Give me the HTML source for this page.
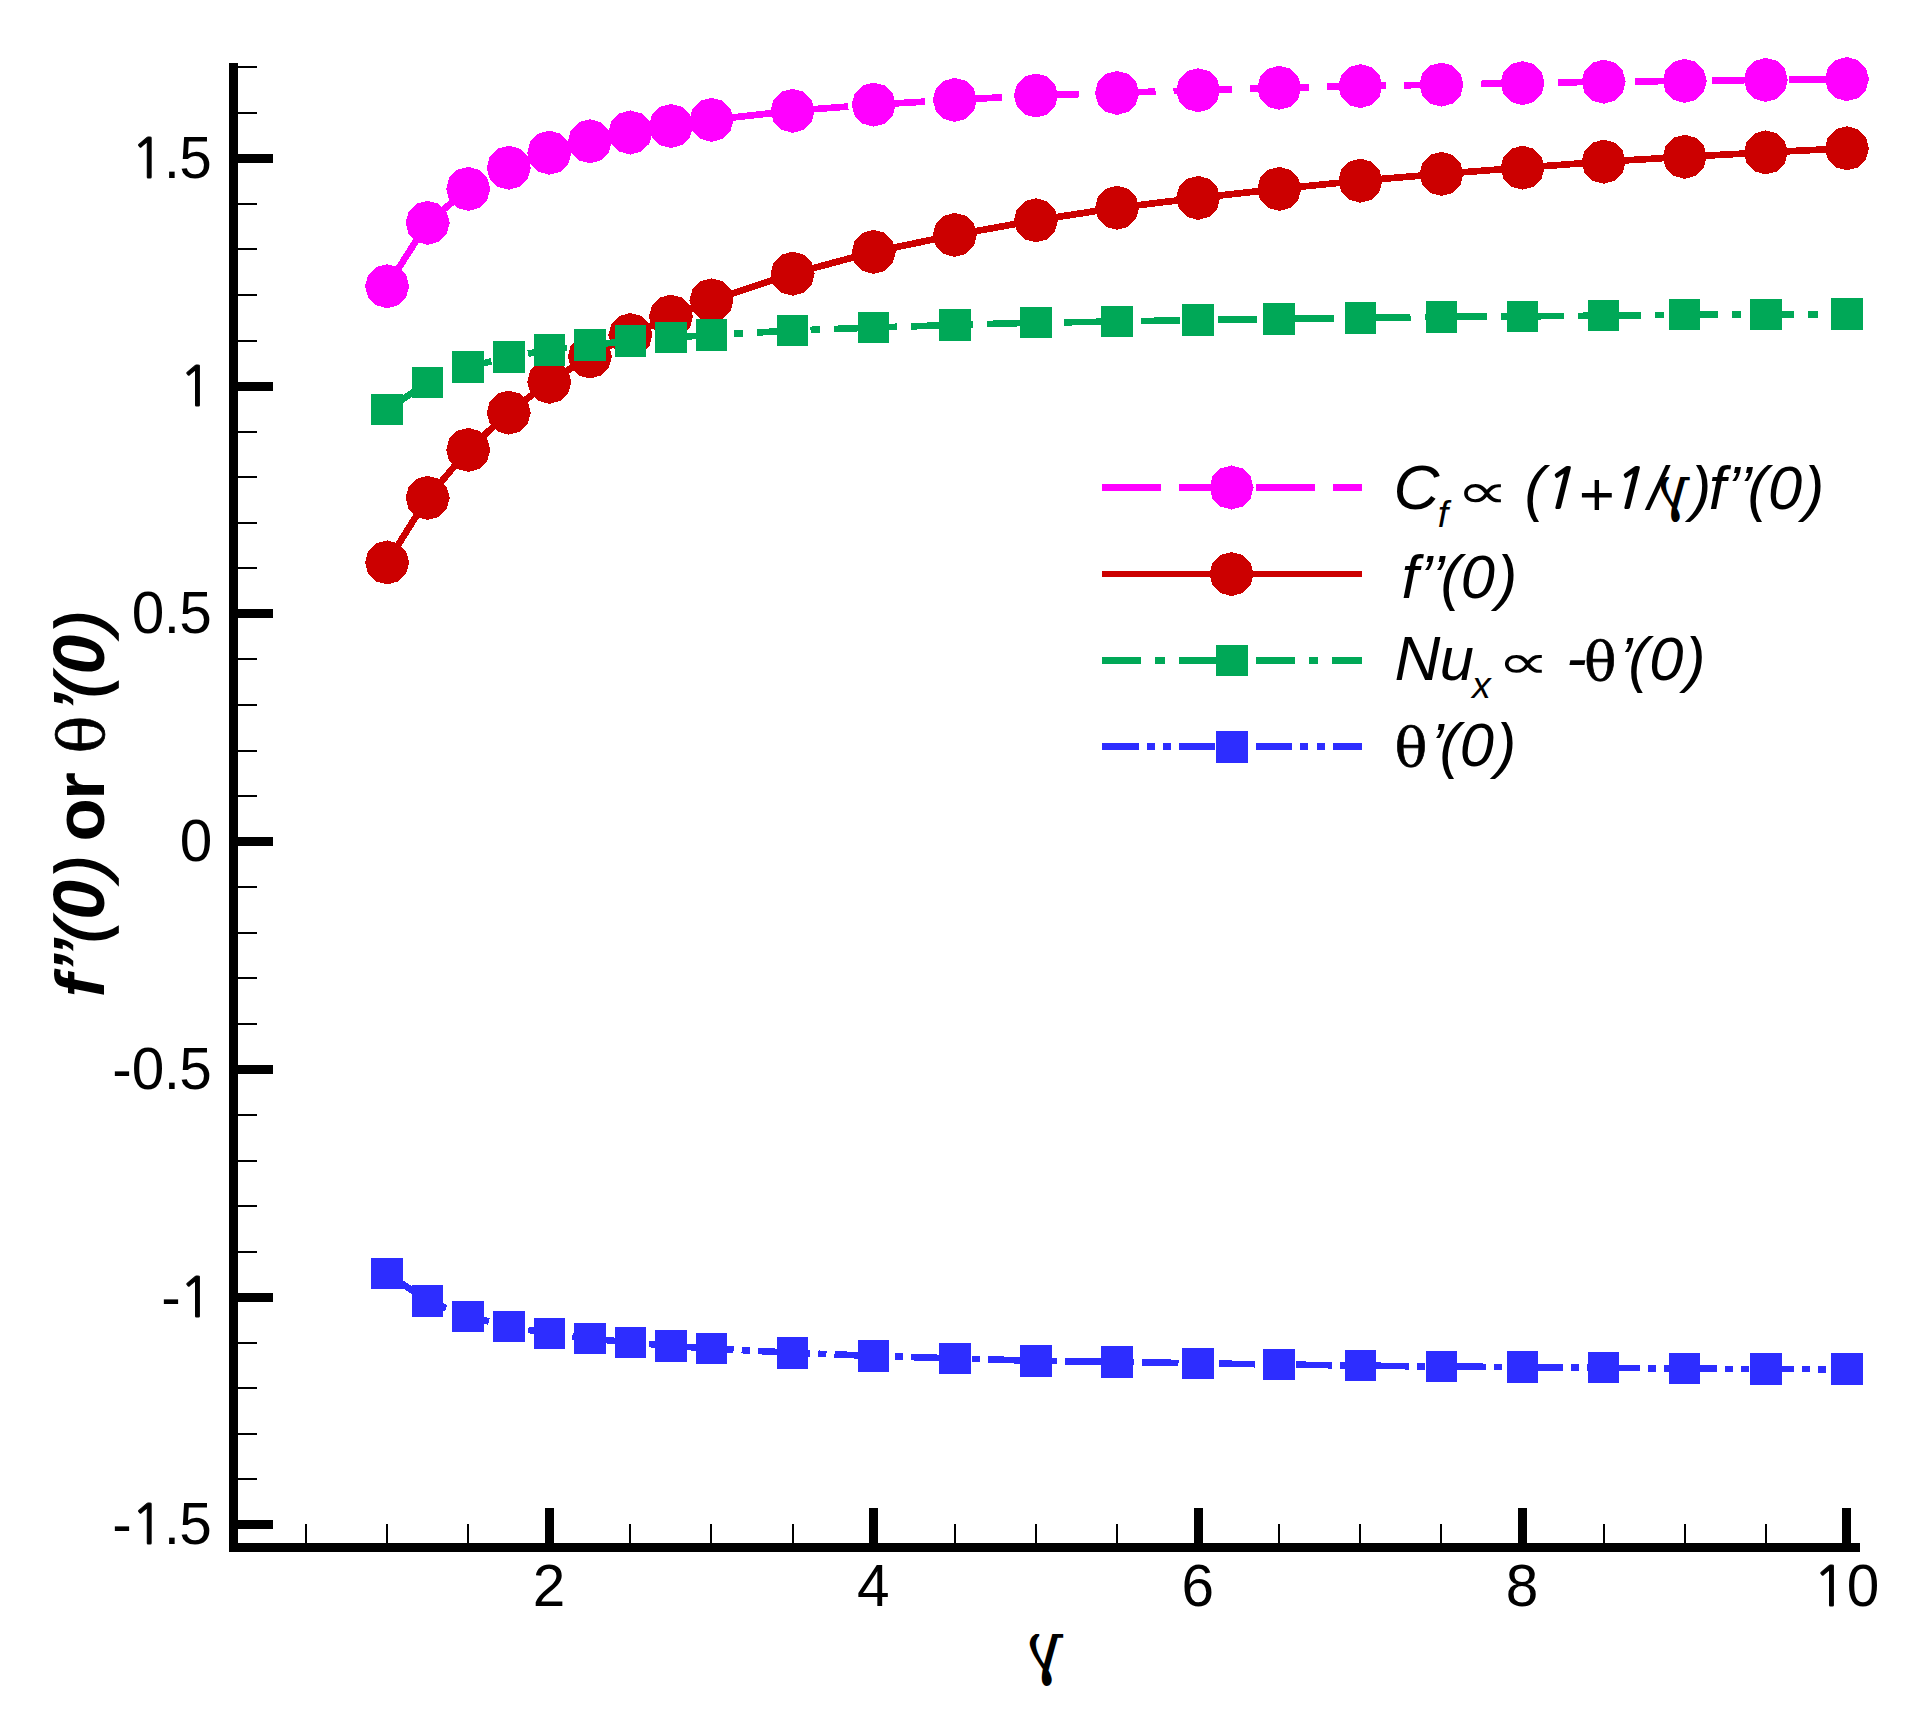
<!DOCTYPE html>
<html lang="en">
<head>
<meta charset="utf-8">
<title>f’’(0) or θ’(0) versus γ</title>
<style>
html,body{margin:0;padding:0;background:#fff}
body{width:1924px;height:1715px;overflow:hidden}
svg{display:block}
.ax{fill:#000}
text{fill:#000}
.tl{font-family:"Liberation Sans",sans-serif;font-size:58.5px}
.lg{font-family:"Liberation Sans",sans-serif;font-style:italic;font-size:61.5px}
.one{font-family:"NanumGothic","Liberation Sans",sans-serif;stroke:#000;stroke-width:1.1px}
.onel{font-family:"NanumGothic","Liberation Sans",sans-serif;stroke:#000;stroke-width:1.8px}
.th{font-family:"DejaVu Serif","Liberation Serif",serif;font-style:normal;font-weight:normal;stroke:#000;stroke-width:.7px}
.pl{font-weight:normal;stroke:#000;stroke-width:1.7px}
.gm{font-family:"DejaVu Serif","Liberation Serif",serif;font-style:normal;font-weight:normal}
.pr{font-family:"DejaVu Sans",sans-serif;font-style:normal;font-weight:normal}
.yt{font-family:"Liberation Sans",sans-serif;font-weight:bold;font-style:italic}
.ln{fill:none;stroke-width:6.7;stroke-linecap:butt;stroke-linejoin:miter}
</style>
</head>
<body>
<svg width="1924" height="1715" viewBox="0 0 1924 1715">
<rect width="1924" height="1715" fill="#fff"/>
<g class="ax" shape-rendering="crispEdges">
<rect x="229" y="63" width="9" height="1489"/>
<rect x="229" y="1543" width="1631" height="9"/>
<rect x="238" y="1520" width="35" height="9"/>
<rect x="238" y="1293" width="35" height="9"/>
<rect x="238" y="1065" width="35" height="9"/>
<rect x="238" y="837" width="35" height="9"/>
<rect x="238" y="609" width="35" height="9"/>
<rect x="238" y="382" width="35" height="9"/>
<rect x="238" y="154" width="35" height="9"/>
<rect x="238" y="1478" width="19" height="2"/>
<rect x="238" y="1433" width="19" height="2"/>
<rect x="238" y="1387" width="19" height="2"/>
<rect x="238" y="1342" width="19" height="2"/>
<rect x="238" y="1251" width="19" height="2"/>
<rect x="238" y="1205" width="19" height="2"/>
<rect x="238" y="1160" width="19" height="2"/>
<rect x="238" y="1114" width="19" height="2"/>
<rect x="238" y="1023" width="19" height="2"/>
<rect x="238" y="977" width="19" height="2"/>
<rect x="238" y="932" width="19" height="2"/>
<rect x="238" y="886" width="19" height="2"/>
<rect x="238" y="795" width="19" height="2"/>
<rect x="238" y="750" width="19" height="2"/>
<rect x="238" y="704" width="19" height="2"/>
<rect x="238" y="658" width="19" height="2"/>
<rect x="238" y="567" width="19" height="2"/>
<rect x="238" y="522" width="19" height="2"/>
<rect x="238" y="476" width="19" height="2"/>
<rect x="238" y="431" width="19" height="2"/>
<rect x="238" y="340" width="19" height="2"/>
<rect x="238" y="294" width="19" height="2"/>
<rect x="238" y="248" width="19" height="2"/>
<rect x="238" y="203" width="19" height="2"/>
<rect x="238" y="112" width="19" height="2"/>
<rect x="238" y="66" width="19" height="2"/>
<rect x="545" y="1508" width="9" height="35"/>
<rect x="869" y="1508" width="9" height="35"/>
<rect x="1194" y="1508" width="9" height="35"/>
<rect x="1518" y="1508" width="9" height="35"/>
<rect x="1842" y="1508" width="9" height="35"/>
<rect x="305" y="1524" width="2" height="19"/>
<rect x="386" y="1524" width="2" height="19"/>
<rect x="467" y="1524" width="2" height="19"/>
<rect x="629" y="1524" width="2" height="19"/>
<rect x="710" y="1524" width="2" height="19"/>
<rect x="792" y="1524" width="2" height="19"/>
<rect x="954" y="1524" width="2" height="19"/>
<rect x="1035" y="1524" width="2" height="19"/>
<rect x="1116" y="1524" width="2" height="19"/>
<rect x="1278" y="1524" width="2" height="19"/>
<rect x="1359" y="1524" width="2" height="19"/>
<rect x="1440" y="1524" width="2" height="19"/>
<rect x="1603" y="1524" width="2" height="19"/>
<rect x="1684" y="1524" width="2" height="19"/>
<rect x="1765" y="1524" width="2" height="19"/>
</g>
<g>
<text class="tl" x="130.85 163.77 179.29" y="177.9"><tspan class="one" font-size="55.2">1</tspan>.5</text>
<text class="tl" x="178.9" y="405.65"><tspan class="one" font-size="55.2">1</tspan></text>
<text class="tl" x="131.73 163.77 179.29" y="633.4">0.5</text>
<text class="tl" x="179.73" y="861.15">0</text>
<text class="tl" x="112.21 131.73 163.77 179.29" y="1088.9">-0.5</text>
<text class="tl" x="161.21 178.9" y="1316.65">-<tspan class="one" font-size="55.2">1</tspan></text>
<text class="tl" x="112.21 130.85 163.77 179.29" y="1544.4">-<tspan class="one" font-size="55.2">1</tspan>.5</text>
<text class="tl" x="548.9" y="1606.3" text-anchor="middle">2</text>
<text class="tl" x="873.3" y="1606.3" text-anchor="middle">4</text>
<text class="tl" x="1197.7" y="1606.3" text-anchor="middle">6</text>
<text class="tl" x="1522.1" y="1606.3" text-anchor="middle">8</text>
<text class="tl" x="1812.95 1846.78" y="1606.3"><tspan class="one" font-size="55.2">1</tspan>0</text>
</g>
<g shape-rendering="crispEdges">
<polyline class="ln" stroke="#ff00ff" stroke-dasharray="58.9 18" points="387.1,286.2 427.65,222.8 468.2,188.9 508.75,167.7 549.3,152.7 589.85,141.3 630.4,132.5 670.95,126 711.5,119.8 792.6,110.8 873.7,104.6 954.8,99.9 1035.9,95.5 1117,92.9 1198.1,90.2 1279.2,87.8 1360.3,86.1 1441.4,84.6 1522.5,83.1 1603.6,81.7 1684.7,80.9 1765.8,79.9 1846.9,79.1"/>
<g fill="#ff00ff"><polygon points="409.15,286.2 406.2,275.18 398.12,267.1 387.1,264.15 376.08,267.1 368,275.18 365.05,286.2 368,297.22 376.07,305.3 387.1,308.25 398.12,305.3 406.2,297.23"/><polygon points="449.7,222.8 446.75,211.78 438.67,203.7 427.65,200.75 416.62,203.7 408.55,211.78 405.6,222.8 408.55,233.83 416.62,241.9 427.65,244.85 438.67,241.9 446.75,233.83"/><polygon points="490.25,188.9 487.3,177.88 479.22,169.8 468.2,166.85 457.18,169.8 449.1,177.88 446.15,188.9 449.1,199.93 457.17,208 468.2,210.95 479.22,208 487.3,199.93"/><polygon points="530.8,167.7 527.85,156.67 519.77,148.6 508.75,145.65 497.73,148.6 489.65,156.67 486.7,167.7 489.65,178.72 497.72,186.8 508.75,189.75 519.77,186.8 527.85,178.72"/><polygon points="571.35,152.7 568.4,141.67 560.32,133.6 549.3,130.65 538.27,133.6 530.2,141.67 527.25,152.7 530.2,163.72 538.27,171.8 549.3,174.75 560.32,171.8 568.4,163.72"/><polygon points="611.9,141.3 608.95,130.28 600.88,122.2 589.85,119.25 578.83,122.2 570.75,130.28 567.8,141.3 570.75,152.33 578.83,160.4 589.85,163.35 600.88,160.4 608.95,152.33"/><polygon points="652.45,132.5 649.5,121.47 641.42,113.4 630.4,110.45 619.38,113.4 611.3,121.47 608.35,132.5 611.3,143.53 619.38,151.6 630.4,154.55 641.42,151.6 649.5,143.53"/><polygon points="693,126 690.05,114.97 681.97,106.9 670.95,103.95 659.92,106.9 651.85,114.97 648.9,126 651.85,137.03 659.92,145.1 670.95,148.05 681.97,145.1 690.05,137.03"/><polygon points="733.55,119.8 730.6,108.78 722.52,100.7 711.5,97.75 700.48,100.7 692.4,108.78 689.45,119.8 692.4,130.82 700.48,138.9 711.5,141.85 722.52,138.9 730.6,130.83"/><polygon points="814.65,110.8 811.7,99.78 803.62,91.7 792.6,88.75 781.57,91.7 773.5,99.78 770.55,110.8 773.5,121.83 781.57,129.9 792.6,132.85 803.62,129.9 811.7,121.83"/><polygon points="895.75,104.6 892.8,93.57 884.72,85.5 873.7,82.55 862.67,85.5 854.6,93.57 851.65,104.6 854.6,115.62 862.67,123.7 873.7,126.65 884.72,123.7 892.8,115.62"/><polygon points="976.85,99.9 973.9,88.88 965.82,80.8 954.8,77.85 943.77,80.8 935.7,88.88 932.75,99.9 935.7,110.93 943.77,119 954.8,121.95 965.82,119 973.9,110.93"/><polygon points="1057.95,95.5 1055,84.47 1046.93,76.4 1035.9,73.45 1024.88,76.4 1016.8,84.47 1013.85,95.5 1016.8,106.53 1024.88,114.6 1035.9,117.55 1046.93,114.6 1055,106.53"/><polygon points="1139.05,92.9 1136.1,81.88 1128.03,73.8 1117,70.85 1105.97,73.8 1097.9,81.88 1094.95,92.9 1097.9,103.93 1105.97,112 1117,114.95 1128.03,112 1136.1,103.93"/><polygon points="1220.15,90.2 1217.2,79.18 1209.12,71.1 1198.1,68.15 1187.07,71.1 1179,79.18 1176.05,90.2 1179,101.23 1187.07,109.3 1198.1,112.25 1209.12,109.3 1217.2,101.23"/><polygon points="1301.25,87.8 1298.3,76.78 1290.23,68.7 1279.2,65.75 1268.17,68.7 1260.1,76.78 1257.15,87.8 1260.1,98.83 1268.17,106.9 1279.2,109.85 1290.23,106.9 1298.3,98.83"/><polygon points="1382.35,86.1 1379.4,75.07 1371.33,67 1360.3,64.05 1349.27,67 1341.2,75.07 1338.25,86.1 1341.2,97.12 1349.27,105.2 1360.3,108.15 1371.33,105.2 1379.4,97.12"/><polygon points="1463.45,84.6 1460.5,73.57 1452.43,65.5 1441.4,62.55 1430.38,65.5 1422.3,73.57 1419.35,84.6 1422.3,95.62 1430.38,103.7 1441.4,106.65 1452.43,103.7 1460.5,95.62"/><polygon points="1544.55,83.1 1541.6,72.07 1533.53,64 1522.5,61.05 1511.47,64 1503.4,72.07 1500.45,83.1 1503.4,94.12 1511.47,102.2 1522.5,105.15 1533.53,102.2 1541.6,94.12"/><polygon points="1625.65,81.7 1622.7,70.68 1614.62,62.6 1603.6,59.65 1592.57,62.6 1584.5,70.68 1581.55,81.7 1584.5,92.73 1592.57,100.8 1603.6,103.75 1614.62,100.8 1622.7,92.73"/><polygon points="1706.75,80.9 1703.8,69.88 1695.73,61.8 1684.7,58.85 1673.67,61.8 1665.6,69.88 1662.65,80.9 1665.6,91.93 1673.67,100 1684.7,102.95 1695.73,100 1703.8,91.93"/><polygon points="1787.85,79.9 1784.9,68.88 1776.83,60.8 1765.8,57.85 1754.77,60.8 1746.7,68.88 1743.75,79.9 1746.7,90.93 1754.77,99 1765.8,101.95 1776.83,99 1784.9,90.93"/><polygon points="1868.95,79.1 1866,68.07 1857.93,60 1846.9,57.05 1835.88,60 1827.8,68.07 1824.85,79.1 1827.8,90.12 1835.88,98.2 1846.9,101.15 1857.93,98.2 1866,90.12"/></g>
<polyline class="ln" stroke="#cc0000" points="387.1,562.4 427.65,497.9 468.2,449.9 508.75,412.6 549.3,381.8 589.85,356.5 630.4,335 670.95,316.6 711.5,300.3 792.6,273.7 873.7,251.9 954.8,234.9 1035.9,220.3 1117,207.8 1198.1,197.9 1279.2,188.9 1360.3,180.7 1441.4,173.9 1522.5,167.7 1603.6,161.7 1684.7,156.8 1765.8,152.4 1846.9,148.3"/>
<g fill="#cc0000"><polygon points="409.15,562.4 406.2,551.38 398.12,543.3 387.1,540.35 376.08,543.3 368,551.38 365.05,562.4 368,573.42 376.07,581.5 387.1,584.45 398.12,581.5 406.2,573.42"/><polygon points="449.7,497.9 446.75,486.88 438.67,478.8 427.65,475.85 416.62,478.8 408.55,486.88 405.6,497.9 408.55,508.92 416.62,517 427.65,519.95 438.67,517 446.75,508.93"/><polygon points="490.25,449.9 487.3,438.88 479.22,430.8 468.2,427.85 457.18,430.8 449.1,438.88 446.15,449.9 449.1,460.92 457.17,469 468.2,471.95 479.22,469 487.3,460.93"/><polygon points="530.8,412.6 527.85,401.58 519.77,393.5 508.75,390.55 497.73,393.5 489.65,401.58 486.7,412.6 489.65,423.62 497.72,431.7 508.75,434.65 519.77,431.7 527.85,423.63"/><polygon points="571.35,381.8 568.4,370.78 560.32,362.7 549.3,359.75 538.27,362.7 530.2,370.78 527.25,381.8 530.2,392.82 538.27,400.9 549.3,403.85 560.32,400.9 568.4,392.83"/><polygon points="611.9,356.5 608.95,345.48 600.88,337.4 589.85,334.45 578.83,337.4 570.75,345.48 567.8,356.5 570.75,367.52 578.83,375.6 589.85,378.55 600.88,375.6 608.95,367.53"/><polygon points="652.45,335 649.5,323.98 641.42,315.9 630.4,312.95 619.38,315.9 611.3,323.98 608.35,335 611.3,346.02 619.38,354.1 630.4,357.05 641.42,354.1 649.5,346.03"/><polygon points="693,316.6 690.05,305.58 681.97,297.5 670.95,294.55 659.92,297.5 651.85,305.58 648.9,316.6 651.85,327.62 659.92,335.7 670.95,338.65 681.97,335.7 690.05,327.63"/><polygon points="733.55,300.3 730.6,289.28 722.52,281.2 711.5,278.25 700.48,281.2 692.4,289.28 689.45,300.3 692.4,311.32 700.48,319.4 711.5,322.35 722.52,319.4 730.6,311.33"/><polygon points="814.65,273.7 811.7,262.68 803.62,254.6 792.6,251.65 781.57,254.6 773.5,262.68 770.55,273.7 773.5,284.72 781.57,292.8 792.6,295.75 803.62,292.8 811.7,284.73"/><polygon points="895.75,251.9 892.8,240.88 884.72,232.8 873.7,229.85 862.67,232.8 854.6,240.88 851.65,251.9 854.6,262.93 862.67,271 873.7,273.95 884.72,271 892.8,262.93"/><polygon points="976.85,234.9 973.9,223.88 965.82,215.8 954.8,212.85 943.77,215.8 935.7,223.88 932.75,234.9 935.7,245.93 943.77,254 954.8,256.95 965.82,254 973.9,245.93"/><polygon points="1057.95,220.3 1055,209.28 1046.93,201.2 1035.9,198.25 1024.88,201.2 1016.8,209.28 1013.85,220.3 1016.8,231.33 1024.88,239.4 1035.9,242.35 1046.93,239.4 1055,231.33"/><polygon points="1139.05,207.8 1136.1,196.78 1128.03,188.7 1117,185.75 1105.97,188.7 1097.9,196.78 1094.95,207.8 1097.9,218.83 1105.97,226.9 1117,229.85 1128.03,226.9 1136.1,218.83"/><polygon points="1220.15,197.9 1217.2,186.88 1209.12,178.8 1198.1,175.85 1187.07,178.8 1179,186.88 1176.05,197.9 1179,208.93 1187.07,217 1198.1,219.95 1209.12,217 1217.2,208.93"/><polygon points="1301.25,188.9 1298.3,177.88 1290.23,169.8 1279.2,166.85 1268.17,169.8 1260.1,177.88 1257.15,188.9 1260.1,199.93 1268.17,208 1279.2,210.95 1290.23,208 1298.3,199.93"/><polygon points="1382.35,180.7 1379.4,169.67 1371.33,161.6 1360.3,158.65 1349.27,161.6 1341.2,169.67 1338.25,180.7 1341.2,191.72 1349.27,199.8 1360.3,202.75 1371.33,199.8 1379.4,191.72"/><polygon points="1463.45,173.9 1460.5,162.88 1452.43,154.8 1441.4,151.85 1430.38,154.8 1422.3,162.88 1419.35,173.9 1422.3,184.93 1430.38,193 1441.4,195.95 1452.43,193 1460.5,184.93"/><polygon points="1544.55,167.7 1541.6,156.67 1533.53,148.6 1522.5,145.65 1511.47,148.6 1503.4,156.67 1500.45,167.7 1503.4,178.72 1511.47,186.8 1522.5,189.75 1533.53,186.8 1541.6,178.72"/><polygon points="1625.65,161.7 1622.7,150.67 1614.62,142.6 1603.6,139.65 1592.57,142.6 1584.5,150.67 1581.55,161.7 1584.5,172.72 1592.57,180.8 1603.6,183.75 1614.62,180.8 1622.7,172.72"/><polygon points="1706.75,156.8 1703.8,145.78 1695.73,137.7 1684.7,134.75 1673.67,137.7 1665.6,145.78 1662.65,156.8 1665.6,167.83 1673.67,175.9 1684.7,178.85 1695.73,175.9 1703.8,167.83"/><polygon points="1787.85,152.4 1784.9,141.38 1776.83,133.3 1765.8,130.35 1754.77,133.3 1746.7,141.38 1743.75,152.4 1746.7,163.43 1754.77,171.5 1765.8,174.45 1776.83,171.5 1784.9,163.43"/><polygon points="1868.95,148.3 1866,137.28 1857.93,129.2 1846.9,126.25 1835.88,129.2 1827.8,137.28 1824.85,148.3 1827.8,159.33 1835.88,167.4 1846.9,170.35 1857.93,167.4 1866,159.33"/></g>
<polyline class="ln" stroke="#00a857" stroke-dasharray="39.3 14.04 9.4 14.04" points="387.1,409.7 427.65,382.4 468.2,367 508.75,357.1 549.3,349.9 589.85,344.9 630.4,341 670.95,337.5 711.5,334.9 792.6,330.6 873.7,327.5 954.8,325 1035.9,322.6 1117,321.6 1198.1,320 1279.2,318.9 1360.3,317.8 1441.4,316.8 1522.5,316.3 1603.6,315.7 1684.7,314.7 1765.8,314.3 1846.9,314.2"/>
<g fill="#00a857"><rect x="371.35" y="393.95" width="31.5" height="31.5"/><rect x="411.9" y="366.65" width="31.5" height="31.5"/><rect x="452.45" y="351.25" width="31.5" height="31.5"/><rect x="493" y="341.35" width="31.5" height="31.5"/><rect x="533.55" y="334.15" width="31.5" height="31.5"/><rect x="574.1" y="329.15" width="31.5" height="31.5"/><rect x="614.65" y="325.25" width="31.5" height="31.5"/><rect x="655.2" y="321.75" width="31.5" height="31.5"/><rect x="695.75" y="319.15" width="31.5" height="31.5"/><rect x="776.85" y="314.85" width="31.5" height="31.5"/><rect x="857.95" y="311.75" width="31.5" height="31.5"/><rect x="939.05" y="309.25" width="31.5" height="31.5"/><rect x="1020.15" y="306.85" width="31.5" height="31.5"/><rect x="1101.25" y="305.85" width="31.5" height="31.5"/><rect x="1182.35" y="304.25" width="31.5" height="31.5"/><rect x="1263.45" y="303.15" width="31.5" height="31.5"/><rect x="1344.55" y="302.05" width="31.5" height="31.5"/><rect x="1425.65" y="301.05" width="31.5" height="31.5"/><rect x="1506.75" y="300.55" width="31.5" height="31.5"/><rect x="1587.85" y="299.95" width="31.5" height="31.5"/><rect x="1668.95" y="298.95" width="31.5" height="31.5"/><rect x="1750.05" y="298.55" width="31.5" height="31.5"/><rect x="1831.15" y="298.45" width="31.5" height="31.5"/></g>
<polyline class="ln" stroke="#2d2dff" stroke-dasharray="36.6 8.056 8.056 8.056 8.056 8.056" points="387.1,1273.7 427.65,1301 468.2,1316.4 508.75,1326.3 549.3,1333.5 589.85,1338.5 630.4,1342.4 670.95,1345.9 711.5,1348.5 792.6,1352.8 873.7,1355.9 954.8,1358.4 1035.9,1360.8 1117,1361.8 1198.1,1363.4 1279.2,1364.5 1360.3,1365.6 1441.4,1366.6 1522.5,1367.1 1603.6,1367.7 1684.7,1368.7 1765.8,1369.1 1846.9,1369.2"/>
<g fill="#2d2dff"><rect x="371.35" y="1257.95" width="31.5" height="31.5"/><rect x="411.9" y="1285.25" width="31.5" height="31.5"/><rect x="452.45" y="1300.65" width="31.5" height="31.5"/><rect x="493" y="1310.55" width="31.5" height="31.5"/><rect x="533.55" y="1317.75" width="31.5" height="31.5"/><rect x="574.1" y="1322.75" width="31.5" height="31.5"/><rect x="614.65" y="1326.65" width="31.5" height="31.5"/><rect x="655.2" y="1330.15" width="31.5" height="31.5"/><rect x="695.75" y="1332.75" width="31.5" height="31.5"/><rect x="776.85" y="1337.05" width="31.5" height="31.5"/><rect x="857.95" y="1340.15" width="31.5" height="31.5"/><rect x="939.05" y="1342.65" width="31.5" height="31.5"/><rect x="1020.15" y="1345.05" width="31.5" height="31.5"/><rect x="1101.25" y="1346.05" width="31.5" height="31.5"/><rect x="1182.35" y="1347.65" width="31.5" height="31.5"/><rect x="1263.45" y="1348.75" width="31.5" height="31.5"/><rect x="1344.55" y="1349.85" width="31.5" height="31.5"/><rect x="1425.65" y="1350.85" width="31.5" height="31.5"/><rect x="1506.75" y="1351.35" width="31.5" height="31.5"/><rect x="1587.85" y="1351.95" width="31.5" height="31.5"/><rect x="1668.95" y="1352.95" width="31.5" height="31.5"/><rect x="1750.05" y="1353.35" width="31.5" height="31.5"/><rect x="1831.15" y="1353.45" width="31.5" height="31.5"/></g>
<line class="ln" stroke="#ff00ff" stroke-dasharray="58.9 18" x1="1102" y1="487.4" x2="1362" y2="487.4"/>
<g fill="#ff00ff"><polygon points="1253.55,487.5 1250.6,476.48 1242.53,468.4 1231.5,465.45 1220.47,468.4 1212.4,476.48 1209.45,487.5 1212.4,498.52 1220.47,506.6 1231.5,509.55 1242.53,506.6 1250.6,498.53"/></g>
<line class="ln" stroke="#cc0000" x1="1102" y1="574" x2="1362" y2="574"/>
<g fill="#cc0000"><polygon points="1253.55,574.05 1250.6,563.02 1242.53,554.95 1231.5,552 1220.47,554.95 1212.4,563.02 1209.45,574.05 1212.4,585.07 1220.47,593.15 1231.5,596.1 1242.53,593.15 1250.6,585.07"/></g>
<line class="ln" stroke="#00a857" stroke-dasharray="39.3 14.04 9.4 14.04" x1="1102" y1="660.4" x2="1362" y2="660.4"/>
<rect x="1216" y="645" width="32" height="31" fill="#00a857"/>
<line class="ln" stroke="#2d2dff" stroke-dasharray="36.6 8.056 8.056 8.056 8.056 8.056" x1="1102" y1="746.5" x2="1362" y2="746.5"/>
<rect x="1216" y="731" width="32" height="32" fill="#2d2dff"/>
</g>
<g>
<text class="lg" x="1393.5 1437.69" y="508.7 526.7"><tspan font-size="63.5">C</tspan><tspan font-size="37.5">f</tspan></text>
<text class="pr" font-size="49.07" transform="translate(1456.29 507.59) scale(1.501 1)">∝</text>
<text class="lg" x="1524.47 1539.5 1578.01 1608.6 1648.26" y="508.7 507.7 515.3 507.7 508.7">(<tspan class="onel" font-size="55.4">1</tspan>+<tspan class="onel" font-size="55.4">1</tspan>/</text>
<text class="gm" font-size="62.22" transform="translate(1691.85 509.09) scale(-0.913 1)">γ</text>
<text class="lg" x="1690.63 1708.76 1726.38 1738.53 1747.47 1767.97 1803.73" y="508.7">)f’’(0)</text>
</g>
<text class="lg" x="1401.46 1419.13 1431.33 1440.57 1460.77 1496.83" y="598">f’’(0)</text>
<g>
<text class="lg" x="1394.43 1439.87 1472.03" y="680.2 680.2 697.6"><tspan font-size="63.5">N</tspan>u<tspan font-size="37.5">x</tspan></text>
<text class="pr" font-size="47.47" transform="translate(1497.06 678.01) scale(1.556 1)">∝</text>
<text class="lg" x="1566.27 1584.3 1619.08 1628.37 1649.17 1684.98" y="678.7 680.13 680.2 680.2 680.2 680.2">-<tspan class="th" font-size="53.4">θ</tspan>’(0)</text>
</g>
<text class="lg" x="1394.77 1430.28 1439.62 1459.77 1495.63" y="766.02 766 766 766 766"><tspan class="th" font-size="54">θ</tspan>’(0)</text>
<text class="gm" font-size="70.19" transform="translate(1065.56 1671.33) scale(-0.929 1)">γ</text>
<text class="yt" font-size="70" transform="translate(103.9 994.4) rotate(-90)" x="-2.77 21.08 36.98 51.65 74.73 116.39 145 152.82 194.58 232 240.82 282.38 296.7 319.83 361.49" y="0 -3 -3 0 0 0 0 0 0 0 -1 -3 0 0 0"><tspan font-size="69">f’’</tspan><tspan class="pl" font-size="67.6">(</tspan><tspan font-size="71.5">0</tspan><tspan class="pl" font-size="67.6">)</tspan><tspan font-size="69"> </tspan><tspan font-style="normal" font-size="71">or </tspan><tspan class="th" font-size="63">θ</tspan><tspan font-size="69">’</tspan><tspan class="pl" font-size="67.6">(</tspan><tspan font-size="71.5">0</tspan><tspan class="pl" font-size="67.6">)</tspan></text>
</svg>
</body>
</html>
